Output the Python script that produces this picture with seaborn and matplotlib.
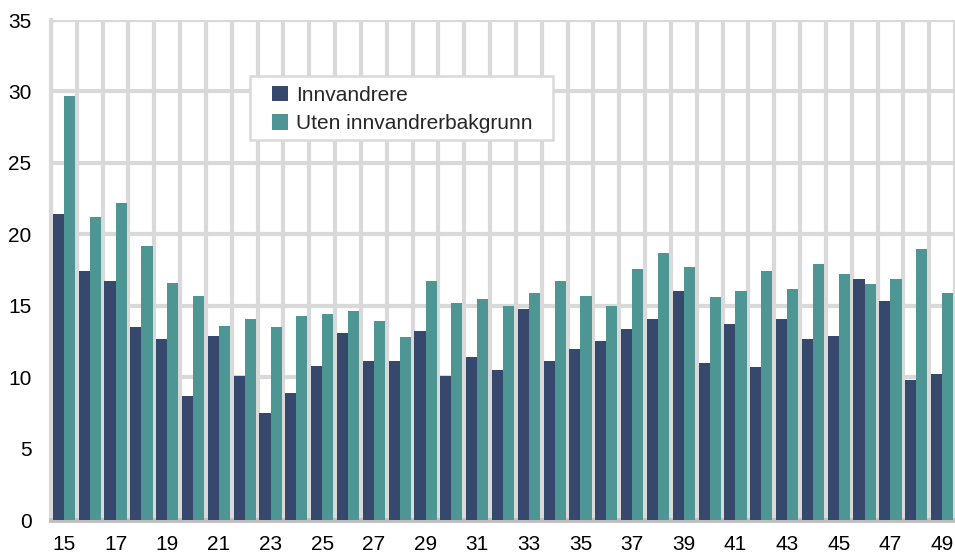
# Andel etter alder - innvandrere vs. uten innvandrerbakgrunn

import numpy as np
import pandas as pd
import matplotlib
matplotlib.use("Agg")
import matplotlib.pyplot as plt
from matplotlib.patches import Rectangle
import seaborn as sns

# Data
alder = list(range(15, 50))
innvandrere = [21.4, 17.4, 16.7, 13.5, 12.7, 8.7, 12.9, 10.1, 7.5, 8.9,
               10.8, 13.1, 11.1, 11.1, 13.2, 10.1, 11.4, 10.5, 14.8, 11.1,
               12.0, 12.5, 13.4, 14.1, 16.0, 11.0, 13.7, 10.7, 14.1, 12.7,
               12.9, 16.9, 15.3, 9.8, 10.2]
uten_bakgrunn = [29.7, 21.2, 22.2, 19.2, 16.6, 15.7, 13.6, 14.1, 13.5, 14.3,
                 14.4, 14.6, 13.9, 12.8, 16.7, 15.2, 15.5, 15.0, 15.9, 16.7,
                 15.7, 15.0, 17.6, 18.7, 17.7, 15.6, 16.0, 17.4, 16.2, 17.9,
                 17.2, 16.5, 16.9, 19.0, 15.9]
serier = ["Innvandrere", "Uten innvandrerbakgrunn"]
farger = ["#36486b", "#4e9693"]

df = pd.DataFrame({
    "alder": [str(a) for a in alder] * 2,
    "verdi": innvandrere + uten_bakgrunn,
    "gruppe": [serier[0]] * len(alder) + [serier[1]] * len(alder),
})

sns.set_style("white")
plt.rcParams['font.family'] = ['Liberation Sans', 'DejaVu Sans']

fig = plt.figure(figsize=(9.55, 5.53), dpi=100)
ax = fig.add_axes([51 / 955, 33 / 553, 904 / 955, 500 / 553])

sns.barplot(data=df, x="alder", y="verdi", hue="gruppe", order=[str(a) for a in alder],
            hue_order=serier, palette=farger, saturation=1, width=0.86,
            linewidth=0, ax=ax, zorder=3)

grid_col = "#d9d9d9"
ax.set_ylim(0, 35)
ax.set_yticks(range(0, 36, 5))
ax.set_xlim(-0.5, len(alder) - 0.5)
ax.set_xticks(range(0, len(alder), 2))
ax.set_xticklabels([str(a) for a in alder[::2]])
ax.set_xticks(np.arange(-0.5, len(alder), 1), minor=True)
ax.grid(axis="y", which="major", color=grid_col, linewidth=3, zorder=0)
ax.grid(axis="x", which="minor", color=grid_col, linewidth=3, zorder=0)
ax.grid(axis="x", which="major", visible=False)
ax.set_axisbelow(True)

for s in ["top", "right"]:
    ax.spines[s].set_visible(False)
ax.spines["left"].set_color(grid_col)
ax.spines["left"].set_linewidth(3)
ax.spines["bottom"].set_color("#bfbfbf")
ax.spines["bottom"].set_linewidth(3.5)

ax.tick_params(axis="both", which="both", length=0, labelsize=15, colors="black")
ax.tick_params(axis="y", pad=14)
ax.tick_params(axis="x", pad=11)
ax.set_xlabel("")
ax.set_ylabel("")

# legend box (white, light grey border)
ax.add_patch(Rectangle((0.2201, 0.76), 0.3352, 0.128, transform=ax.transAxes,
                       facecolor="white", edgecolor=grid_col, linewidth=1.8,
                       zorder=4))
leg = ax.legend(loc="upper left", bbox_to_anchor=(0.2445, 0.868), fontsize=15,
                frameon=False, handlelength=0.75, handleheight=0.75,
                handletextpad=0.4, borderpad=0, labelspacing=0.45,
                borderaxespad=0)
leg.set_zorder(5)

fig.savefig("out.png", dpi=100)
plt.close()
